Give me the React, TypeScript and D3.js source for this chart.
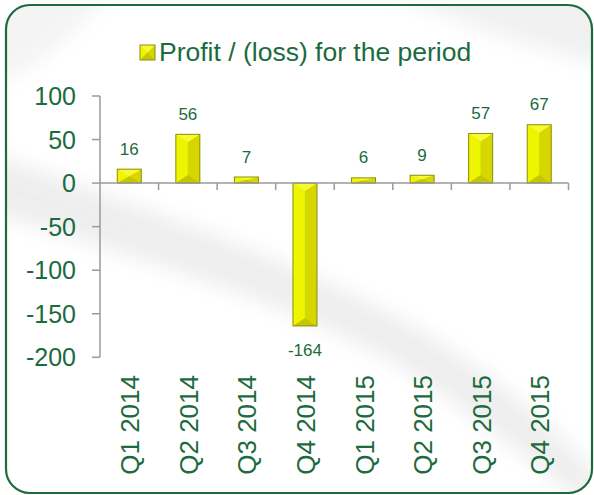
import React from "react";
import * as d3 from "d3";

const categories = ["Q1 2014", "Q2 2014", "Q3 2014", "Q4 2014", "Q1 2015", "Q2 2015", "Q3 2015", "Q4 2015"];
const profitValues = [16, 56, 7, -164, 6, 9, 57, 67];
const yTicks = [100, 50, 0, -50, -100, -150, -200];
const seriesName = "Profit / (loss) for the period";

const W = 594;
const H = 495;
const GREEN = "#1b6b3e";
const FONT = "'Liberation Sans', Arial, sans-serif";

function BevelBar({ x, y, w, h }: { x: number; y: number; w: number; h: number }) {
  const x0 = x, x1 = x + w, y0 = y, y1 = y + h, cx = x + w / 2;
  const b = Math.min(8, h / 2);
  return (
    <g>
      <rect x={x0} y={y0} width={w} height={h} fill="#e3e300" />
      <polygon points={`${x0},${y0} ${cx},${y0 + b} ${cx},${y1 - b} ${x0},${y1}`} fill="#eef500" />
      <polygon points={`${x1},${y0} ${cx},${y0 + b} ${cx},${y1 - b} ${x1},${y1}`} fill="#d6d600" />
      <polygon points={`${x0},${y0} ${x1},${y0} ${cx},${y0 + b}`} fill="#f6fa30" />
      <polygon points={`${x0},${y1} ${x1},${y1} ${cx},${y1 - b}`} fill="#c6c600" />
      <rect x={x0} y={y0} width={w} height={h} fill="none" stroke="#8d8d10" strokeWidth={1} />
    </g>
  );
}

export default function App() {
  const left = 100, right = 568.5;
  const x = d3.scaleBand<string>().domain(categories).range([left, right]).padding(0);
  const y = d3.scaleLinear().domain([-200, 100]).range([357.3, 96]);
  const bw = 24;
  const y0 = y(0);

  return (
    <svg width={W} height={H} style={{ position: "absolute", left: 0, top: 0 }} fontFamily={FONT}>
      <defs>
        <filter id="blur" x="-20%" y="-20%" width="140%" height="140%">
          <feGaussianBlur stdDeviation="10" />
        </filter>
        <clipPath id="frameClip">
          <rect x={6} y={5} width={586} height={488} rx={24} ry={24} />
        </clipPath>
      </defs>
      <rect x={0} y={0} width={W} height={H} fill="#ffffff" />
      <g clipPath="url(#frameClip)" filter="url(#blur)" opacity={0.9}>
        <path d="M -20 150 C 120 200, 300 260, 420 330 C 500 380, 560 430, 620 500 L 620 530 C 540 470, 470 410, 390 360 C 280 300, 120 250, -20 210 Z" fill="#ececec" />
        <path d="M 360 -20 C 450 20, 540 50, 620 70 L 620 -20 Z" fill="#efefef" />
        <path d="M -20 -20 L 120 -20 C 80 30, 40 70, -20 90 Z" fill="#f3f3f3" />
      </g>
      <rect x={6} y={5} width={586} height={488} rx={24} ry={24} fill="none" stroke={GREEN} strokeWidth={2.2} />

      {/* legend */}
      <g>
        <BevelBar x={140} y={45} w={15} h={15} />
        <text x={159} y={60.5} fontSize={26.5} fill={GREEN}>{seriesName}</text>
      </g>

      {/* y axis */}
      <line x1={left} x2={left} y1={y(100)} y2={y(-200)} stroke="#9a9a9a" strokeWidth={1.5} />
      {yTicks.map((t) => (
        <g key={t}>
          <line x1={left - 8} x2={left} y1={y(t)} y2={y(t)} stroke="#9a9a9a" strokeWidth={1.5} />
          <text x={76} y={y(t)} dy="0.36em" textAnchor="end" fontSize={25} fill={GREEN}>{t}</text>
        </g>
      ))}

      {/* bars */}
      {categories.map((c, i) => {
        const v = profitValues[i];
        const cx = (x(c) as number) + x.bandwidth() / 2;
        const top = v >= 0 ? y(v) : y0;
        const h = Math.abs(y(v) - y0);
        return <BevelBar key={c} x={cx - bw / 2} y={top} w={bw} h={h} />;
      })}

      {/* x axis */}
      <line x1={left} x2={right} y1={y0} y2={y0} stroke="#9a9a9a" strokeWidth={1.5} />
      {categories.map((c, i) => (
        <line key={c} x1={(x(c) as number) + x.bandwidth()} x2={(x(c) as number) + x.bandwidth()} y1={y0} y2={y0 + 7} stroke="#9a9a9a" strokeWidth={1.5} />
      ))}

      {/* data labels */}
      {categories.map((c, i) => {
        const v = profitValues[i];
        const cx = (x(c) as number) + x.bandwidth() / 2;
        const ly = v >= 0 ? y(v) - 14.5 : y(v) + 30;
        return (
          <text key={c} x={cx} y={ly} textAnchor="middle" fontSize={17} fill={GREEN}>{v}</text>
        );
      })}

      {/* category labels */}
      {categories.map((c) => {
        const cx = (x(c) as number) + x.bandwidth() / 2;
        return (
          <text key={c} transform={`translate(${cx + 10},375) rotate(-90)`} textAnchor="end" fontSize={26} fill={GREEN}>{c}</text>
        );
      })}
    </svg>
  );
}
